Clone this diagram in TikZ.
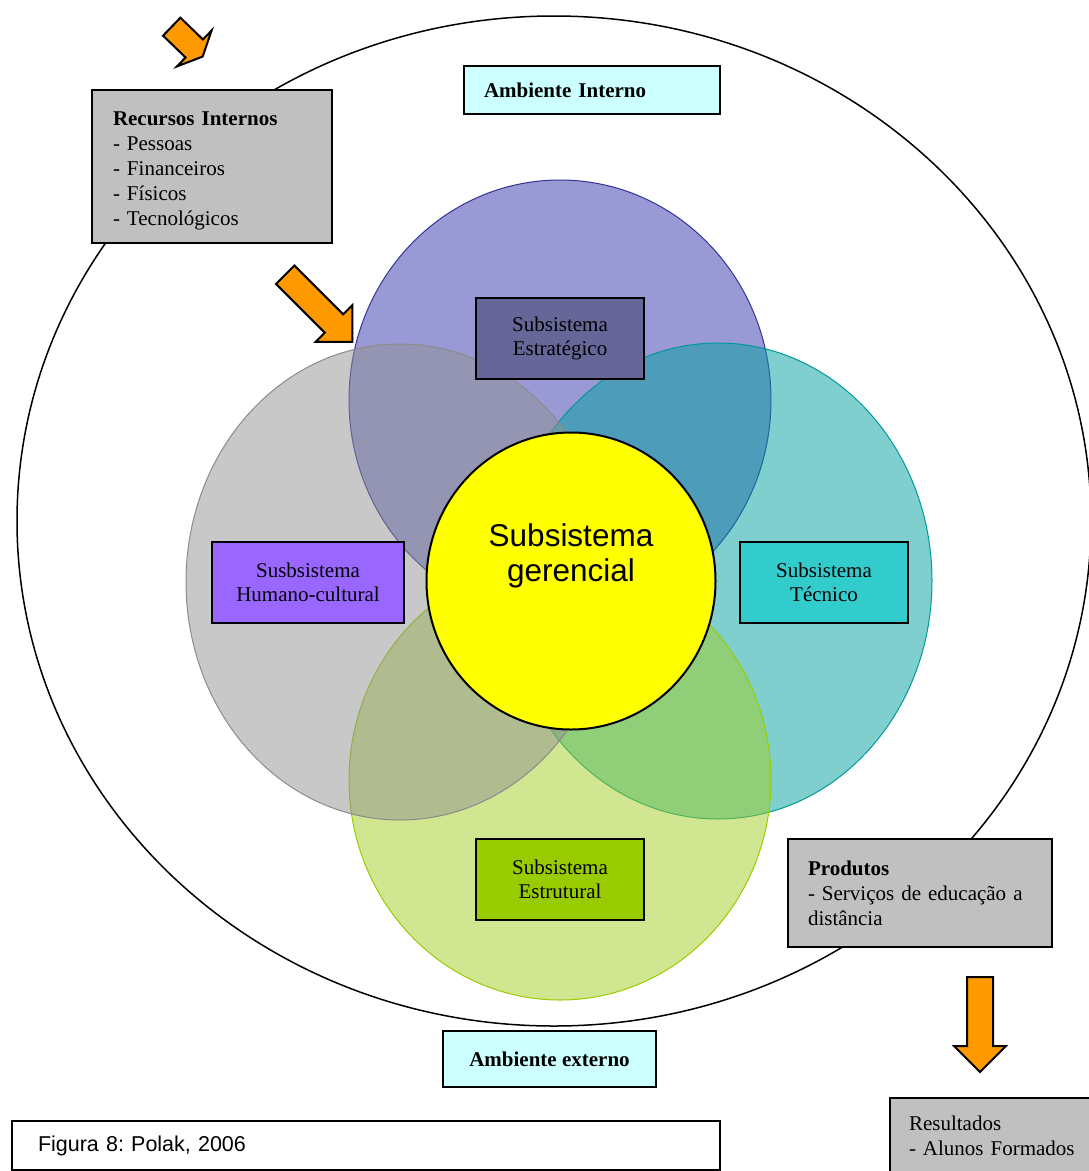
\documentclass[tikz,border=0pt]{standalone}
\usepackage{fontspec}
\setmainfont{Liberation Serif}
\setsansfont{Liberation Sans}
\usetikzlibrary{shapes.geometric,shapes.arrows}

\definecolor{laranja}{HTML}{FF9900}
\definecolor{cinza}{HTML}{C0C0C0}
\definecolor{ciano}{HTML}{CCFFFF}

\begin{document}
\begin{tikzpicture}[
    x=1pt,y=-1pt,
    caixa/.style={
        draw,
        line width=2pt,
        anchor=north west,
        inner xsep=20pt,
        align=left,
        font=\fontsize{21}{25}\selectfont,
    },
    subsis/.style={
        caixa,
        minimum width=168pt,
        minimum height=81pt,
        align=center,
        font=\fontsize{21}{24}\selectfont,
    },
    bolha/.style={
        ellipse,
        draw,
        line width=1pt,
        fill opacity=0.5,
        inner sep=0pt,
    },
    seta/.style={
        single arrow,
        draw,
        line width=2pt,
        fill=laranja,
        anchor=tail,
        inner xsep=0pt,
        inner ysep=12pt,
        minimum width=50pt,
        single arrow head extend=13pt,
        minimum height=95pt,
    },
]

\useasboundingbox (0,0) rectangle (1089,1171);

% ambiente interno (big ellipse)
\node[ellipse,draw,line width=1.5pt,minimum width=1074pt,minimum height=1010pt] (amb) at (554,521) {};

% the four subsystems
\node[bolha,fill=blue!60!black!80,draw={rgb,255:red,51;green,51;blue,153},minimum width=422pt,minimum height=440pt] (bTopo) at (560,400) {};
\node[bolha,fill={rgb,255:red,0;green,160;blue,160},draw={rgb,255:red,0;green,153;blue,153},minimum width=428pt,minimum height=476pt] (bDir) at (718,581) {};
\node[bolha,fill={rgb,255:red,161;green,205;blue,33},draw={rgb,255:red,153;green,204;blue,0},minimum width=422pt,minimum height=440pt] (bBaixo) at (560,780) {};
\node[bolha,fill=black!43,draw=black!45,minimum width=428pt,minimum height=476pt] (bEsq) at (400,582) {};

% centre
\node[ellipse,draw,line width=2pt,fill={rgb,255:red,255;green,255;blue,0},minimum width=289pt,minimum height=297pt] (ger) at (571,581) {};
\node[font=\sffamily\fontsize{31.5}{35}\selectfont,align=center] (gerTxt) at (571,556) {Subsistema\\gerencial};

\node[subsis,fill={rgb,255:red,102;green,102;blue,153}] (estrat) at (475,297) {Subsistema\\Estratégico};
\node[subsis,fill={rgb,255:red,51;green,204;blue,204}] (tecnico) at (739,541) {Subsistema\\Técnico};
\node[subsis,fill={rgb,255:red,153;green,102;blue,255},minimum width=192pt] (humano) at (211,541) {Susbsistema\\Humano-cultural};
\node[subsis,fill={rgb,255:red,153;green,204;blue,0}] (estrut) at (475,838) {Subsistema\\Estrutural};

% boxes outside
\node[caixa,fill=ciano,minimum width=256pt,minimum height=48pt,text width=216pt] (ambInt) at (463,65) {\textbf{Ambiente Interno}};
\node[caixa,fill=cinza,minimum width=240pt,minimum height=153pt,inner xsep=21pt,text width=198pt] (recursos) at (91,89)
    {\rule{0pt}{22pt}\textbf{Recursos Internos}\\- Pessoas\\- Financeiros\\- Físicos\\- Tecnológicos};
\node[caixa,fill=cinza,minimum width=264pt,minimum height=108pt,text width=224pt] (produtos) at (787,838)
    {\textbf{Produtos}\\- Serviços de educação a\\distância\\[5pt]};
\node[caixa,fill=ciano,minimum width=213pt,minimum height=56pt,align=center,inner xsep=0pt] (ambExt) at (442,1030) {\textbf{Ambiente externo}};
\node[caixa,fill=cinza,minimum width=240pt,minimum height=75pt,inner xsep=19pt,text width=202pt] (resultados) at (889,1097)
    {Resultados\\- Alunos Formados};
\node[caixa,fill=white,minimum width=708pt,minimum height=49pt,inner xsep=26pt,text width=656pt,
    font=\sffamily\fontsize{21.5}{25}\selectfont] (figura) at (11,1120) {Figura 8:\ Polak, 2006};

% orange arrows
\node[seta,rotate=-44,minimum height=43pt,minimum width=48pt,inner ysep=11.5pt,single arrow head extend=12.5pt,single arrow tip angle=130] (setaA) at (171,26) {};
\node[seta,rotate=-45] (setaB) at (284.5,274) {};
\node[seta,rotate=-90] (setaC) at (980,976) {};

\end{tikzpicture}
\end{document}
